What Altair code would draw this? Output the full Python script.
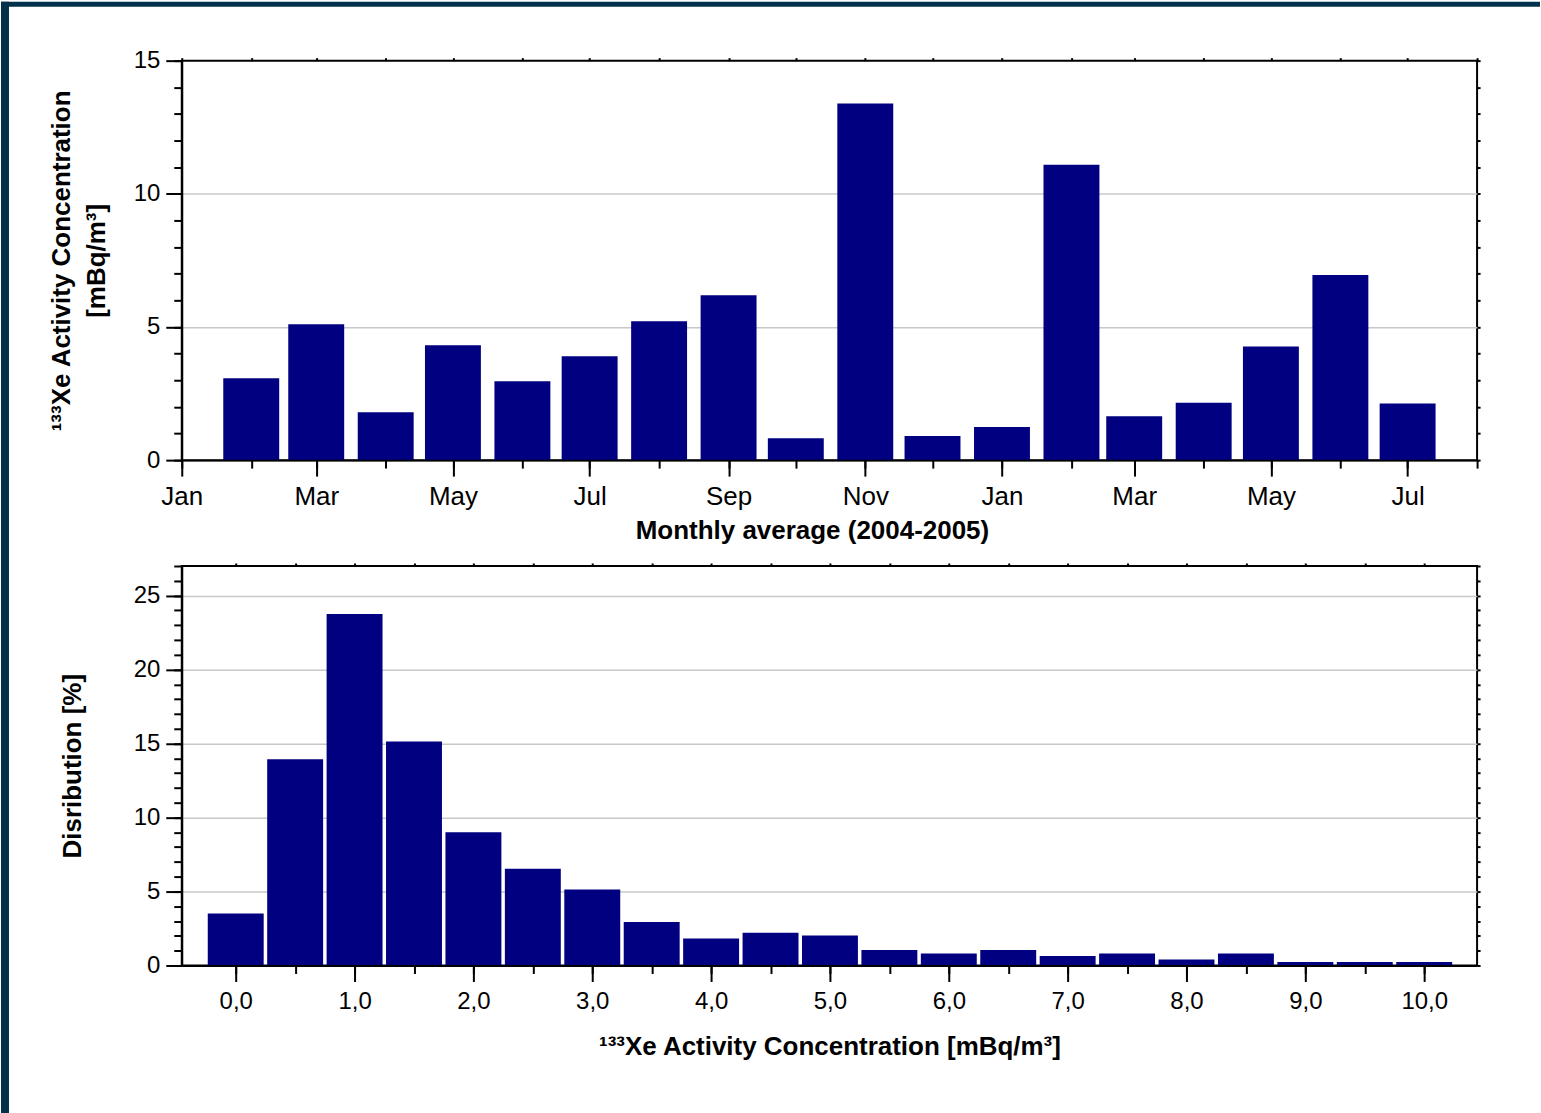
import altair as alt
import pandas as pd

# ---------------- data ----------------
months = ["2004-02", "2004-03", "2004-04", "2004-05", "2004-06", "2004-07",
          "2004-08", "2004-09", "2004-10", "2004-11", "2004-12", "2005-01",
          "2005-02", "2005-03", "2005-04", "2005-05", "2005-06", "2005-07"]
monthly_avg = [3.07, 5.10, 1.80, 4.31, 2.96, 3.90, 5.21, 6.19, 0.82, 13.39,
               0.91, 1.24, 11.09, 1.65, 2.15, 4.27, 6.95, 2.13]

bin_centers = [0.0, 0.5, 1.0, 1.5, 2.0, 2.5, 3.0, 3.5, 4.0, 4.5, 5.0,
               5.5, 6.0, 6.5, 7.0, 7.5, 8.0, 8.5, 9.0, 9.5, 10.0]
distribution = [3.51, 13.94, 23.76, 15.14, 9.01, 6.53, 5.14, 2.93, 1.82, 2.21,
                2.03, 1.04, 0.81, 1.04, 0.64, 0.81, 0.41, 0.81, 0.23, 0.23, 0.23]

month_major_ticks = ["2004-01", "2004-03", "2004-05", "2004-07", "2004-09",
                     "2004-11", "2005-01", "2005-03", "2005-05", "2005-07"]
month_minor_ticks = ["2004-01", "2004-02", "2004-03", "2004-04", "2004-05",
                     "2004-06", "2004-07", "2004-08", "2004-09", "2004-10",
                     "2004-11", "2004-12", "2005-01", "2005-02", "2005-03",
                     "2005-04", "2005-05", "2005-06", "2005-07", "2005-08"]
month_domain = ["2004-01", "2005-08"]

top_y_major = [0, 5, 10, 15]
top_y_grid = [5, 10]
top_y_minor = list(range(0, 16))

bot_x_major = [0, 1, 2, 3, 4, 5, 6, 7, 8, 9, 10]
bot_x_minor = [0, 0.5, 1, 1.5, 2, 2.5, 3, 3.5, 4, 4.5, 5, 5.5, 6, 6.5, 7,
               7.5, 8, 8.5, 9, 9.5, 10]
bot_x_domain = [-0.454, 10.445]
bot_y_major = [0, 5, 10, 15, 20, 25]
bot_y_grid = [5, 10, 15, 20, 25]
bot_y_minor = list(range(0, 28))
bot_y_domain = [0, 27]

# ---------------- styling ----------------
FONT = "Liberation Sans"
NAVY = "#000080"
FRAME = "#03304a"
GRID = "#c8c8c8"
W, H = 1297, 400


def dt(s):
    y, m = s.split("-")
    return alt.DateTime(year=int(y), month=int(m), date=1, hours=0)


def major_axis(orient, values, title, **kw):
    return alt.Axis(orient=orient, values=values, title=title, grid=False,
                    tickSize=16, tickWidth=2, tickColor="black",
                    domain=True, domainColor="black", domainWidth=2,
                    labelFont=FONT, labelColor="black", labelOverlap=False,
                    labelFlush=False, titleFont=FONT, titleFontWeight="bold",
                    titleColor="black", titleFontSize=26, zindex=2, **kw)


def minor_axis(orient, values, size=8):
    return alt.Axis(orient=orient, values=values, title=None, grid=False,
                    labels=False, domain=False, tickSize=size, tickWidth=2,
                    tickColor="black", zindex=2)


def grid_axis(orient, values):
    return alt.Axis(orient=orient, values=values, title=None, grid=True,
                    gridColor=GRID, gridWidth=1.5, labels=False, ticks=False,
                    domain=False, zindex=0)


# ---------------- top panel ----------------
df1 = pd.DataFrame({"month": pd.to_datetime([m + "-01" for m in months]),
                    "value": monthly_avg})
xs1 = alt.Scale(domain=[dt(month_domain[0]), dt(month_domain[1])], padding=0)
ys1 = alt.Scale(domain=[0, 15], nice=False, padding=0)
base1 = alt.Chart(df1)

bars1 = base1.mark_bar(size=56, color=NAVY).encode(
    x=alt.X("month:T", scale=xs1, axis=None),
    y=alt.Y("value:Q", scale=ys1, axis=grid_axis("left", top_y_grid)),
)
maj1 = base1.mark_bar(size=56, opacity=0).encode(
    x=alt.X("month:T", scale=xs1,
            axis=major_axis("bottom", [dt(m) for m in month_major_ticks],
                            "Monthly average (2004-2005)", format="%b",
                            labelFontSize=26, labelPadding=7, titlePadding=8,
                            titleX=631)),
    y=alt.Y("value:Q", scale=ys1,
            axis=major_axis("left", top_y_major,
                            ["\u00b9\u00b3\u00b3Xe Activity Concentration", "[mBq/m\u00b3]"],
                            labelFontSize=24, labelPadding=6, titlePadding=24,
                            titleLineHeight=35)),
)
min1 = base1.mark_bar(size=56, opacity=0).encode(
    x=alt.X("month:T", scale=xs1,
            axis=minor_axis("bottom", [dt(m) for m in month_minor_ticks])),
    y=alt.Y("value:Q", scale=ys1, axis=minor_axis("left", top_y_minor)),
)
edge1 = base1.mark_bar(size=56, opacity=0).encode(
    x=alt.X("month:T", scale=xs1,
            axis=minor_axis("top", [dt(m) for m in month_minor_ticks], 3)),
    y=alt.Y("value:Q", scale=ys1, axis=minor_axis("right", top_y_minor, 3)),
)

stripe_df = pd.DataFrame({"k": [0]})
left_stripe = alt.Chart(stripe_df).mark_rect(color=FRAME).encode(
    x=alt.value(-181), x2=alt.value(-173), y=alt.value(-59), y2=alt.value(1054))
top_stripe = alt.Chart(stripe_df).mark_rect(color=FRAME).encode(
    x=alt.value(-181), x2=alt.value(1360), y=alt.value(-59), y2=alt.value(-54))

top = alt.layer(left_stripe, top_stripe, bars1, maj1, min1, edge1).resolve_axis(
    x="independent", y="independent").properties(width=W, height=H)

# ---------------- bottom panel ----------------
df2 = pd.DataFrame({"bin": bin_centers, "pct": distribution})
xs2 = alt.Scale(domain=bot_x_domain, nice=False, zero=False, padding=0)
ys2 = alt.Scale(domain=bot_y_domain, nice=False, padding=0)
base2 = alt.Chart(df2)
num_fmt = "replace(format(datum.value, '.1f'), '.', ',')"

bars2 = base2.mark_bar(size=56, color=NAVY).encode(
    x=alt.X("bin:Q", scale=xs2, axis=None),
    y=alt.Y("pct:Q", scale=ys2, axis=grid_axis("left", bot_y_grid)),
)
maj2 = base2.mark_bar(size=56, opacity=0).encode(
    x=alt.X("bin:Q", scale=xs2,
            axis=major_axis("bottom", bot_x_major,
                            "\u00b9\u00b3\u00b3Xe Activity Concentration [mBq/m\u00b3]",
                            labelExpr=num_fmt, labelFontSize=24,
                            labelPadding=8, titlePadding=20)),
    y=alt.Y("pct:Q", scale=ys2,
            axis=major_axis("left", bot_y_major, "Disribution [%]",
                            labelFontSize=24, labelPadding=6, titlePadding=48)),
)
min2 = base2.mark_bar(size=56, opacity=0).encode(
    x=alt.X("bin:Q", scale=xs2, axis=minor_axis("bottom", bot_x_minor)),
    y=alt.Y("pct:Q", scale=ys2, axis=minor_axis("left", bot_y_minor)),
)
edge2 = base2.mark_bar(size=56, opacity=0).encode(
    x=alt.X("bin:Q", scale=xs2, axis=minor_axis("top", bot_x_minor, 3)),
    y=alt.Y("pct:Q", scale=ys2, axis=minor_axis("right", bot_y_minor, 3)),
)

bottom = alt.layer(bars2, maj2, min2, edge2).resolve_axis(
    x="independent", y="independent").properties(width=W, height=H)

chart = alt.vconcat(top, bottom, spacing=106, bounds="flush").properties(
    padding=0, background="white"
).configure_view(stroke="black", strokeWidth=2)

chart.save("out.html", embed_options={"renderer": "svg", "actions": False})
